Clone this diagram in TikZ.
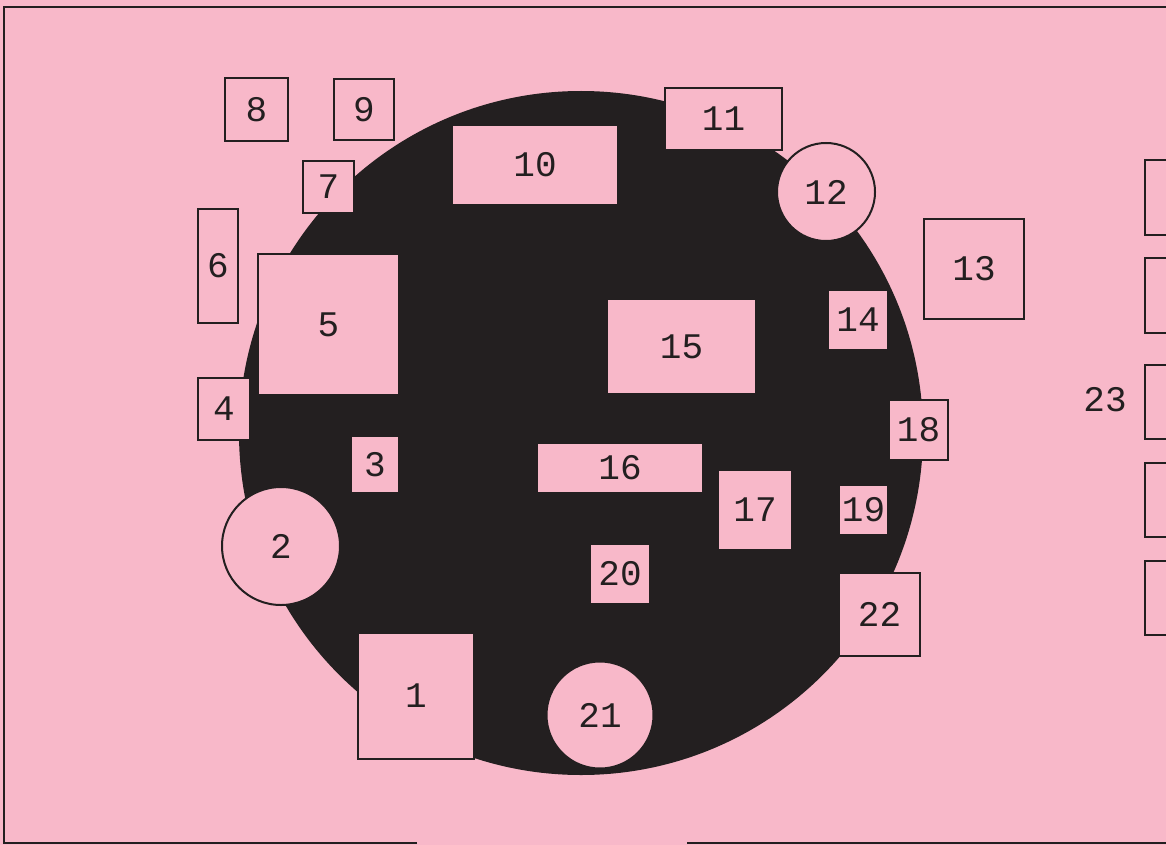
\documentclass[tikz,border=0pt]{standalone}
\usepackage{fontspec}
\setmonofont{Liberation Mono}
\definecolor{pinkbg}{HTML}{F8B8C9}
\definecolor{ink}{HTML}{231F20}
\begin{document}
\begin{tikzpicture}[x=1pt,y=-1pt,
  box/.style={draw=ink,fill=pinkbg,line width=2pt,rectangle,inner sep=0pt,
    text=ink,font=\ttfamily\fontsize{36}{36}\selectfont},
  rnd/.style={box,circle},
  lbl/.style={text=ink,inner sep=0pt,font=\ttfamily\fontsize{36}{36}\selectfont}]
\useasboundingbox (0,0) rectangle (1166,845);
\clip (0,0) rectangle (1166,845);
\fill[pinkbg] (0,0) rectangle (1166,845);
% frame
\coordinate (fbl) at (4,843);
\coordinate (ftl) at (4,7);
\coordinate (ftr) at (1172,7);
\coordinate (fb1) at (417,843);
\coordinate (fb2) at (687,843);
\coordinate (fbr) at (1172,843);
\draw[ink,line width=2pt] (fb1) -- (fbl) -- (ftl) -- (ftr);
\draw[ink,line width=2pt] (fb2) -- (fbr);
% big circle
\fill[ink] (581,433) circle[radius=342];
% shapes
\node[box,minimum width=63pt,minimum height=63pt] (n8) at (256.5,109.5) {8};
\node[box,minimum width=60pt,minimum height=61pt] (n9) at (364,109.5) {9};
\node[box,minimum width=51pt,minimum height=52pt] (n7) at (328.5,187) {7};
\node[box,minimum width=40pt,minimum height=114pt] (n6) at (218,266) {6};
\node[box,minimum width=141pt,minimum height=141pt] (n5) at (328.5,324.5) {5};
\node[box,minimum width=52pt,minimum height=62pt] (n4) at (224,409) {4};
\node[box,minimum width=48pt,minimum height=57pt] (n3) at (375,464.5) {3};
\node[rnd,minimum size=118pt] (n2) at (281,546) {2};
\node[box,minimum width=116pt,minimum height=126pt] (n1) at (416,696) {1};
\node[box,minimum width=166pt,minimum height=80pt] (n10) at (535,165) {10};
\node[box,minimum width=117pt,minimum height=62pt] (n11) at (723.5,119) {11};
\node[rnd,minimum size=98pt] (n12) at (826,192) {12};
\node[box,minimum width=100pt,minimum height=100pt] (n13) at (974,269) {13};
\node[box,minimum width=60pt,minimum height=60pt] (n14) at (858,320) {14};
\node[box,minimum width=149pt,minimum height=95pt] (n15) at (681.5,346.5) {15};
\node[box,minimum width=166pt,minimum height=50pt] (n16) at (620,468) {16};
\node[box,minimum width=74pt,minimum height=80pt] (n17) at (755,510) {17};
\node[box,minimum width=59pt,minimum height=60pt] (n18) at (918.5,430) {18};
\node[box,minimum width=49pt,minimum height=50pt] (n19) at (863.5,510) {19};
\node[box,minimum width=60pt,minimum height=60pt] (n20) at (620,574) {20};
\node[rnd,minimum size=107pt] (n21) at (600,715) {21};
\node[box,minimum width=81pt,minimum height=83pt] (n22) at (879.5,614.5) {22};
% right column
\node[box,minimum width=60pt,minimum height=75pt] (r1) at (1175,197.5) {};
\node[box,minimum width=60pt,minimum height=75pt] (r2) at (1175,295.5) {};
\node[box,minimum width=60pt,minimum height=74pt] (r3) at (1175,402) {};
\node[box,minimum width=60pt,minimum height=74pt] (r4) at (1175,500) {};
\node[box,minimum width=60pt,minimum height=74pt] (r5) at (1175,597.5) {};
\node[lbl] (n23) at (1105,400) {23};
\end{tikzpicture}
\end{document}
